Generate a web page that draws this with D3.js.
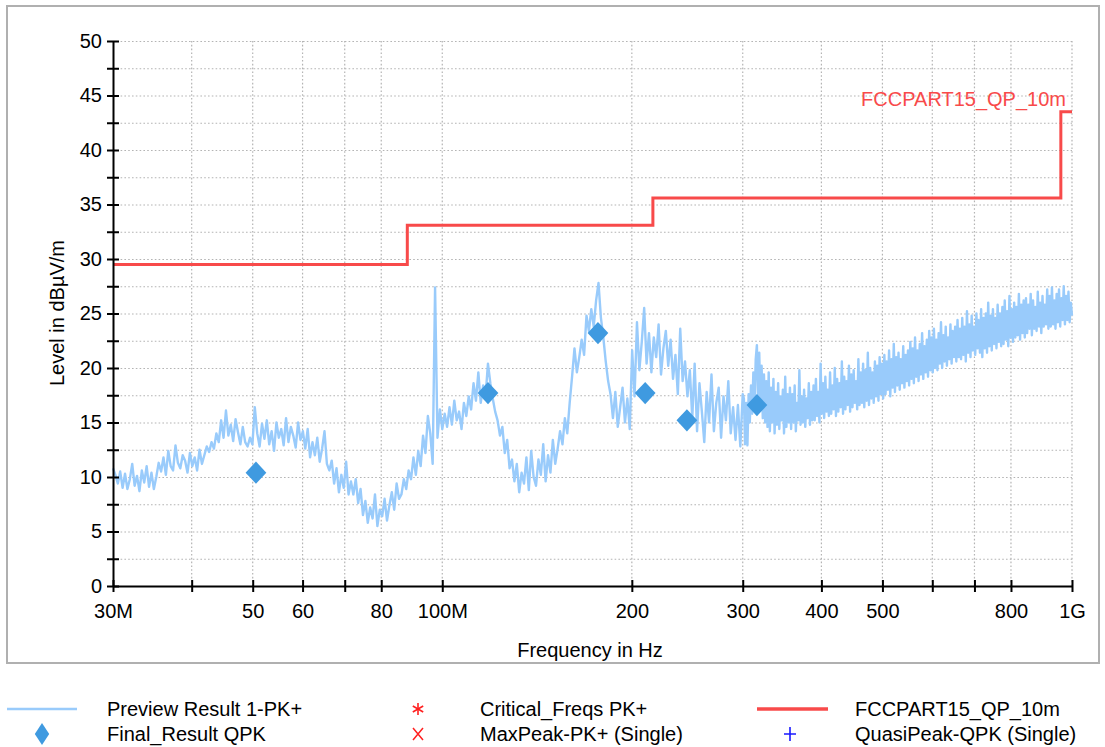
<!DOCTYPE html>
<html>
<head>
<meta charset="utf-8">
<script src="https://cdn.jsdelivr.net/npm/d3@7"></script>
<style>
  html, body { margin: 0; padding: 0; background: #ffffff; }
  svg { display: block; font-family: "Liberation Sans", Arial, Helvetica, sans-serif; }
</style>
</head>
<body>
<svg id="chart" width="1105" height="747"></svg>
<script>
// ---------------- DATA ----------------
// Preview Result 1-PK+ : two sweep sub-ranges, each a log-spaced sweep grid
const sweepLowStartHz = 30e6, sweepLowStopHz = 300e6;
const sweepHighStartHz = 300e6, sweepHighStopHz = 1e9;

// levels (dBµV/m), 30 MHz .. 300 MHz
const previewLevelsLow = [
  10.8, 10.2, 9.4, 10.5, 9.0, 10.3, 8.9, 9.8, 11.2, 9.2, 10.1, 8.7, 10.6, 9.5, 11.0, 9.1, 10.4, 8.9, 10.0, 11.3,
  10.5, 11.8, 10.2, 12.4, 11.0, 10.6, 12.9, 11.3, 10.8, 12.0, 11.5, 10.4, 12.2, 11.0, 11.8, 10.6, 12.5, 11.2, 12.0, 12.8,
  12.3, 13.2, 12.6, 14.0, 13.2, 15.2, 13.6, 16.1, 13.8, 14.8, 13.3, 15.3, 14.1, 13.0, 14.6, 13.2, 12.8, 13.6, 13.0, 16.4,
  14.0, 12.8, 14.9, 13.5, 15.2, 13.0, 14.2, 12.4, 15.0, 13.6, 14.4, 12.9, 15.4, 13.2, 14.6, 13.8, 12.7, 15.0, 13.4, 14.2,
  12.6, 14.4, 11.8, 13.2, 12.0, 13.6, 11.4, 12.6, 14.2, 11.2, 10.6, 11.5, 9.4, 10.8, 8.6, 10.2, 9.0, 11.4, 8.4, 9.6,
  8.4, 9.8, 7.6, 8.9, 6.5, 7.8, 5.8, 7.2, 6.2, 8.4, 5.5, 7.0, 6.4, 8.0, 6.0, 7.4, 8.6, 7.0, 9.4, 8.0,
  8.4, 9.8, 8.9, 10.6, 9.8, 11.8, 10.2, 12.4, 11.0, 13.8, 12.2, 15.6, 14.0, 11.2, 27.4, 13.6, 16.2, 14.4, 15.8, 14.6,
  16.4, 14.8, 17.0, 15.2, 16.0, 14.4, 16.8, 15.6, 17.4, 16.2, 18.6, 17.0, 19.6, 16.8, 18.4, 17.4, 20.4, 18.6, 17.2, 16.0,
  15.2, 13.8, 14.6, 12.2, 13.4, 10.8, 11.6, 9.6, 11.2, 8.6, 10.4, 9.4, 11.8, 8.8, 12.4, 10.0, 9.2, 11.6, 10.2, 13.0,
  9.6, 12.0, 10.4, 13.4, 11.2, 12.6, 14.2, 13.0, 15.4, 14.0, 16.8, 19.2, 21.8, 19.6, 21.0, 22.6, 21.2, 24.8, 23.4, 25.4,
  23.8, 26.2, 27.8, 24.6, 22.8, 20.6, 18.8, 17.6, 15.4, 17.8, 14.6, 16.4, 18.2, 15.0, 17.2, 14.4, 21.6, 17.4, 24.2, 19.8,
  22.4, 25.5, 20.4, 23.2, 19.6, 22.8, 21.0, 24.0, 19.4, 21.8, 23.4, 20.2, 22.6, 19.0, 21.2, 17.6, 23.6, 18.8, 20.6, 17.4,
  19.8, 15.4, 20.4, 14.2, 18.6, 16.0, 13.2, 17.8, 15.0, 19.4, 14.2, 16.8, 18.2, 13.6, 17.4, 15.2, 18.8, 14.0, 16.4, 13.4,
  16.6, 12.8, 17.6
];

// levels (dBµV/m), 300 MHz .. 1 GHz
const previewLevelsHigh = [
  14.2, 17.2, 13.0, 16.8, 12.9, 17.6, 15.0, 18.4, 15.8, 19.6, 16.4, 20.8, 22.1, 17.0, 21.4, 16.6, 20.2, 15.4, 19.4, 15.0,
  18.8, 14.6, 19.6, 14.2, 18.2, 15.0, 19.0, 14.0, 17.8, 14.8, 18.6, 14.4, 17.4, 15.2, 18.0, 14.0, 19.2, 14.6, 17.6, 15.0,
  18.2, 14.4, 17.6, 15.0, 18.4, 14.2, 16.8, 15.2, 19.8, 14.8, 17.4, 15.0, 18.0, 14.6, 17.2, 15.4, 18.6, 14.8, 17.8, 15.2,
  18.4, 15.2, 19.0, 15.6, 17.8, 15.0, 20.4, 15.8, 18.6, 15.4, 19.2, 16.0, 18.0, 15.6, 19.6, 15.8, 18.4, 16.2, 20.0, 15.6,
  19.0, 16.0, 18.6, 16.4, 20.6, 15.8, 19.2, 16.2, 18.8, 16.6, 20.2, 16.0, 19.4, 16.4, 19.8, 16.8, 18.8, 16.2, 20.8, 16.6,
  19.6, 16.8, 20.4, 16.4, 19.8, 17.0, 21.4, 16.6, 20.0, 17.2, 19.6, 16.8, 20.6, 17.4, 20.2, 17.0, 21.0, 17.6, 20.4, 17.2,
  21.2, 17.6, 20.6, 18.0, 21.6, 17.4, 20.8, 18.2, 22.2, 17.8, 21.0, 18.4, 21.4, 18.0, 20.8, 18.6, 22.0, 18.2, 21.2, 18.8,
  21.6, 18.4, 22.4, 19.0, 21.8, 18.6, 22.8, 19.2, 21.6, 18.8, 22.2, 19.4, 23.2, 19.0, 22.0, 19.6, 22.6, 19.2, 23.4, 19.8,
  22.8, 19.6, 23.6, 20.0, 22.6, 19.8, 23.2, 20.4, 24.2, 20.0, 23.0, 20.6, 23.8, 20.2, 22.8, 20.8, 24.0, 20.4, 23.4, 21.0,
  23.8, 20.6, 24.4, 21.0, 23.6, 20.8, 24.6, 21.2, 23.8, 20.6, 25.2, 21.4, 24.0, 21.0, 24.8, 21.6, 23.8, 21.2, 25.0, 21.8,
  24.4, 21.4, 25.4, 21.0, 24.6, 21.8, 25.0, 21.4, 26.0, 22.0, 24.8, 21.6, 25.4, 22.2, 24.6, 21.8, 25.8, 22.4, 25.0, 22.0,
  25.6, 22.2, 26.2, 22.6, 25.2, 22.0, 26.6, 22.8, 25.4, 22.4, 26.0, 22.8, 25.6, 23.0, 26.8, 22.6, 25.8, 23.2, 26.2, 22.8,
  26.4, 23.2, 25.8, 23.6, 26.8, 23.0, 26.2, 23.6, 25.6, 23.4, 27.0, 23.8, 26.0, 23.2, 26.6, 23.8, 25.8, 24.0, 27.2, 23.6,
  26.6, 23.8, 27.4, 24.0, 26.2, 23.6, 26.8, 24.2, 27.2, 23.8, 26.4, 24.4, 27.5, 24.0, 26.6, 24.4, 27.0, 24.2, 26.0, 24.8
];

// Final_Result QPK
const finalFreqsMHz = [50.6, 118.2, 176.7, 210.0, 244.6, 316.0];
const finalLevels   = [10.4, 17.7, 23.2, 17.7, 15.2, 16.6];

// FCCPART15_QP_10m limit (step)
const limitFreqsMHz = [30, 88, 216, 960, 1000];
const limitLevels   = [29.5, 33.1, 35.6, 43.5, 43.5];
const limitName = "FCCPART15_QP_10m";

// Axis ticks
const xTickMHz    = [30, 40, 50, 60, 70, 80, 100, 200, 300, 400, 500, 600, 700, 800, 1000];
const xTickLabels = ["30M", "", "50", "60", "", "80", "100M", "200", "300", "400", "500", "", "", "800", "1G"];
const yTicks      = [0, 2.5, 5, 7.5, 10, 12.5, 15, 17.5, 20, 22.5, 25, 27.5, 30, 32.5, 35, 37.5, 40, 42.5, 45, 47.5, 50];
const yTickLabels = ["0", "", "5", "", "10", "", "15", "", "20", "", "25", "", "30", "", "35", "", "40", "", "45", "", "50"];

const xAxisTitle = "Frequency in Hz";
const yAxisTitle = "Level in dBµV/m";

const legendItems = [
  { name: "Preview Result 1-PK+",  kind: "line",     color: "#99cbfb" },
  { name: "Final_Result QPK",      kind: "diamond",  color: "#3f9ae0" },
  { name: "Critical_Freqs PK+",    kind: "asterisk", color: "#ff2020" },
  { name: "MaxPeak-PK+ (Single)",  kind: "times",    color: "#ff2020" },
  { name: "FCCPART15_QP_10m",      kind: "thick",    color: "#f84a4a" },
  { name: "QuasiPeak-QPK (Single)",kind: "plus",     color: "#1a1aff" }
];

// ---------------- CHART ----------------
const plot = { left: 113, right: 1072, top: 41, bottom: 586 };
const fontSize = 20;
const svg = d3.select("#chart");

// frame
svg.append("rect").attr("x", 7).attr("y", 6).attr("width", 1092).attr("height", 657)
  .attr("fill", "#fff").attr("stroke", "#b0b0b0").attr("stroke-width", 2);

const x = d3.scaleLog().domain([sweepLowStartHz, sweepHighStopHz]).range([plot.left, plot.right]);
const y = d3.scaleLinear().domain([0, 50]).range([plot.bottom, plot.top]);

// grid
const grid = svg.append("g").attr("stroke", "#b4b4b4").attr("stroke-width", 1.2)
  .attr("stroke-dasharray", "1.6,2.2").attr("fill", "none");
grid.selectAll("line.h").data(yTicks.filter(v => v > 0)).join("line")
  .attr("x1", plot.left).attr("x2", plot.right)
  .attr("y1", d => y(d) + 0.5).attr("y2", d => y(d) + 0.5);
grid.selectAll("line.v").data(xTickMHz.filter(v => v > 30)).join("line")
  .attr("x1", d => x(d * 1e6)).attr("x2", d => x(d * 1e6))
  .attr("y1", plot.top).attr("y2", plot.bottom);

// preview trace (sweep grid frequencies for each sub-range)
function sweep(levels, f0, f1) {
  const n = levels.length;
  return levels.map((v, i) => [f0 * Math.pow(f1 / f0, i / (n - 1)), v]);
}
const previewData = sweep(previewLevelsLow, sweepLowStartHz, sweepLowStopHz)
  .concat(sweep(previewLevelsHigh, sweepHighStartHz, sweepHighStopHz).slice(1));
svg.append("path").datum(previewData)
  .attr("fill", "none").attr("stroke", "#99cbfb").attr("stroke-width", 2.4)
  .attr("stroke-linejoin", "round")
  .attr("d", d3.line().x(d => x(d[0])).y(d => y(d[1])));

// limit line
const limitData = limitFreqsMHz.map((f, i) => [f * 1e6, limitLevels[i]]);
svg.append("path").datum(limitData)
  .attr("fill", "none").attr("stroke", "#f84a4a").attr("stroke-width", 3)
  .attr("d", d3.line().curve(d3.curveStepAfter).x(d => x(d[0])).y(d => y(d[1])));

svg.append("text").attr("x", 1066).attr("y", y(limitLevels[limitLevels.length - 1]) - 6)
  .attr("text-anchor", "end").attr("fill", "#f84a4a").attr("font-size", fontSize)
  .text(limitName);

// final result diamonds
svg.append("g").selectAll("path").data(finalFreqsMHz.map((f, i) => [f * 1e6, finalLevels[i]])).join("path")
  .attr("d", d3.symbol(d3.symbolSquare, 215))
  .attr("transform", d => `translate(${x(d[0])},${y(d[1])}) scale(1,1.07) rotate(45)`)
  .attr("fill", "#3f9ae0");

// axes
const xAxis = d3.axisBottom(x).tickValues(xTickMHz.map(f => f * 1e6))
  .tickFormat((d, i) => xTickLabels[i]).tickSizeInner(6).tickSizeOuter(0).tickPadding(12);
const gx = svg.append("g").attr("transform", `translate(0,${plot.bottom})`).call(xAxis);
gx.select(".domain").attr("stroke", "#000").attr("stroke-width", 2);
gx.selectAll(".tick line").attr("y1", -6).attr("y2", 6).attr("stroke", "#000").attr("stroke-width", 2);
gx.selectAll(".tick text").attr("font-size", fontSize).attr("fill", "#000")
  .attr("font-family", "Liberation Sans, Arial, sans-serif");

const yAxis = d3.axisLeft(y).tickValues(yTicks).tickFormat((d, i) => yTickLabels[i])
  .tickSizeInner(6).tickSizeOuter(0).tickPadding(5);
const gy = svg.append("g").attr("transform", `translate(${plot.left},0)`).call(yAxis);
gy.select(".domain").attr("stroke", "#000").attr("stroke-width", 2);
gy.selectAll(".tick line").attr("x1", -6).attr("x2", 6).attr("stroke", "#000").attr("stroke-width", 2);
gy.selectAll(".tick text").attr("font-size", fontSize).attr("fill", "#000")
  .attr("font-family", "Liberation Sans, Arial, sans-serif");

// axis titles
svg.append("text").attr("x", 590).attr("y", 657).attr("text-anchor", "middle")
  .attr("font-size", fontSize).text(xAxisTitle);
svg.append("text").attr("transform", `translate(64,313) rotate(-90)`).attr("text-anchor", "middle")
  .attr("font-size", fontSize).text(yAxisTitle);

// legend
const legendPos = [
  { sx: 42,  tx: 107, cy: 709 },
  { sx: 42,  tx: 107, cy: 734 },
  { sx: 418, tx: 480, cy: 709 },
  { sx: 418, tx: 480, cy: 734 },
  { sx: 792, tx: 855, cy: 709 },
  { sx: 790, tx: 855, cy: 734 }
];
const lg = svg.append("g");
legendItems.forEach((item, i) => {
  const p = legendPos[i];
  const g = lg.append("g");
  if (item.kind === "line") {
    g.append("line").attr("x1", p.sx - 35).attr("x2", p.sx + 35).attr("y1", p.cy).attr("y2", p.cy)
      .attr("stroke", item.color).attr("stroke-width", 2.5);
  } else if (item.kind === "thick") {
    g.append("line").attr("x1", p.sx - 35).attr("x2", p.sx + 36).attr("y1", p.cy).attr("y2", p.cy)
      .attr("stroke", item.color).attr("stroke-width", 3.5);
  } else if (item.kind === "diamond") {
    g.append("path").attr("d", d3.symbol(d3.symbolSquare, 200))
      .attr("transform", `translate(${p.sx},${p.cy}) scale(0.72,1.1) rotate(45)`).attr("fill", item.color);
  } else if (item.kind === "asterisk") {
    const r = 6;
    [0, 60, 120].forEach(a => {
      g.append("line").attr("x1", 0).attr("x2", 0).attr("y1", -r).attr("y2", r)
        .attr("transform", `translate(${p.sx},${p.cy}) rotate(${a})`)
        .attr("stroke", item.color).attr("stroke-width", 1.6);
    });
  } else if (item.kind === "times") {
    g.append("path").attr("d", "M-5,-6L5,6M5,-6L-5,6")
      .attr("transform", `translate(${p.sx},${p.cy})`).attr("stroke", item.color).attr("stroke-width", 1.5).attr("fill", "none");
  } else if (item.kind === "plus") {
    g.append("path").attr("d", "M-6,0L6,0M0,-7L0,7")
      .attr("transform", `translate(${p.sx},${p.cy})`).attr("stroke", item.color).attr("stroke-width", 1.6).attr("fill", "none");
  }
  g.append("text").attr("x", p.tx).attr("y", p.cy).attr("dy", "0.35em")
    .attr("font-size", fontSize).attr("fill", "#000").text(item.name);
});
</script>
</body>
</html>
